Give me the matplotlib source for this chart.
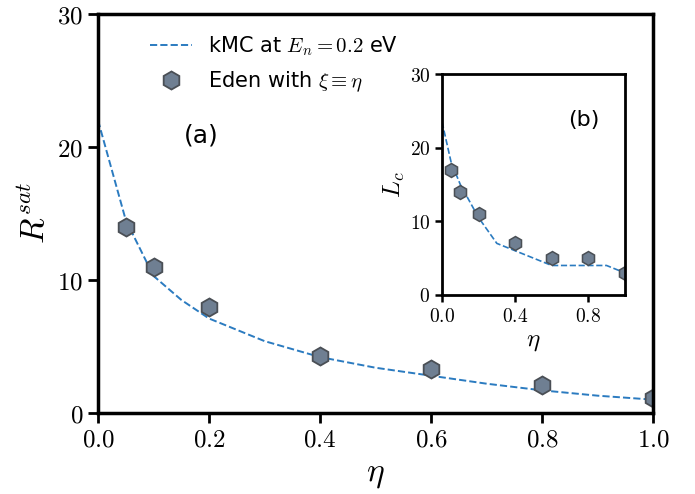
import matplotlib
matplotlib.use("Agg")
import matplotlib.pyplot as plt

plt.rcParams['mathtext.fontset'] = 'cm'
plt.rcParams['font.family'] = ['DejaVu Sans']

# main panel (a)
eta_line = [0.0, 0.05, 0.1, 0.15, 0.2, 0.3, 0.4, 0.5, 0.6, 0.7, 0.8, 0.9, 1.0]
r_kmc = [22.0, 14.5, 10.3, 8.5, 7.1, 5.4, 4.2, 3.4, 2.8, 2.2, 1.7, 1.3, 1.0]
eta_eden = [0.05, 0.1, 0.2, 0.4, 0.6, 0.8, 1.0]
r_eden = [14.0, 11.0, 8.0, 4.3, 3.3, 2.1, 1.1]

# inset panel (b)
eta_line_b = [0.0, 0.05, 0.1, 0.2, 0.3, 0.4, 0.5, 0.6, 0.7, 0.8, 0.9, 1.0]
lc_kmc = [23.5, 18.0, 15.0, 10.5, 7.0, 6.0, 5.0, 4.0, 4.0, 4.0, 4.0, 3.0]
lc_eden = [17.0, 14.0, 11.0, 7.0, 5.0, 5.0, 3.0]

line_color = '#2b7bc0'
face = '#6f7f92'
edge = '#4a4f55'

fig = plt.figure(figsize=(6.95, 4.94), dpi=100)
ax = fig.add_axes([0.141, 0.164, 0.799, 0.808])

ax.plot(eta_line, r_kmc, '--', color=line_color, lw=1.4,
        label=r'kMC at $E_n = 0.2$ eV')
ax.plot(eta_eden, r_eden, 'h', ms=13, mfc=face, mec=edge, mew=1.3,
        ls='none', label=r'Eden with $\xi \equiv \eta$')

ax.set_xlim(0, 1)
ax.set_ylim(0, 30)
xt = [0.0, 0.2, 0.4, 0.6, 0.8, 1.0]
yt = [0, 10, 20, 30]
ax.set_xticks(xt)
ax.set_xticklabels([f'${v:.1f}$' for v in xt], fontsize=18)
ax.set_yticks(yt)
ax.set_yticklabels([f'${v}$' for v in yt], fontsize=18)
ax.set_xlabel(r'$\eta$', fontsize=24)
ax.set_ylabel(r'$R^{sat}$', fontsize=24)
ax.tick_params(width=2, length=7)
for s in ax.spines.values():
    s.set_linewidth(2.5)
ax.text(0.155, 20.3, '(a)', fontsize=18)
ax.legend(loc='upper left', frameon=False, fontsize=15,
          bbox_to_anchor=(0.06, 0.995), handlelength=2.0,
          handletextpad=0.8, labelspacing=0.55)

# inset
axb = fig.add_axes([0.636, 0.403, 0.263, 0.447])
axb.plot(eta_line_b, lc_kmc, '--', color=line_color, lw=1.2)
axb.plot(eta_eden, lc_eden, 'h', ms=10, mfc=face, mec=edge, mew=1.1, ls='none')
axb.set_xlim(0, 1)
axb.set_ylim(0, 30)
xtb = [0.0, 0.4, 0.8]
ytb = [0, 10, 20, 30]
axb.set_xticks(xtb)
axb.set_xticklabels([f'${v:.1f}$' for v in xtb], fontsize=14)
axb.set_yticks(ytb)
axb.set_yticklabels([f'${v}$' for v in ytb], fontsize=14)
axb.set_xlabel(r'$\eta$', fontsize=18, labelpad=2)
axb.set_ylabel(r'$L_c$', fontsize=18, labelpad=2)
axb.tick_params(width=1.8, length=5)
for s in axb.spines.values():
    s.set_linewidth(2)
axb.text(0.69, 23.0, '(b)', fontsize=16)

fig.savefig('out.png', dpi=100)
